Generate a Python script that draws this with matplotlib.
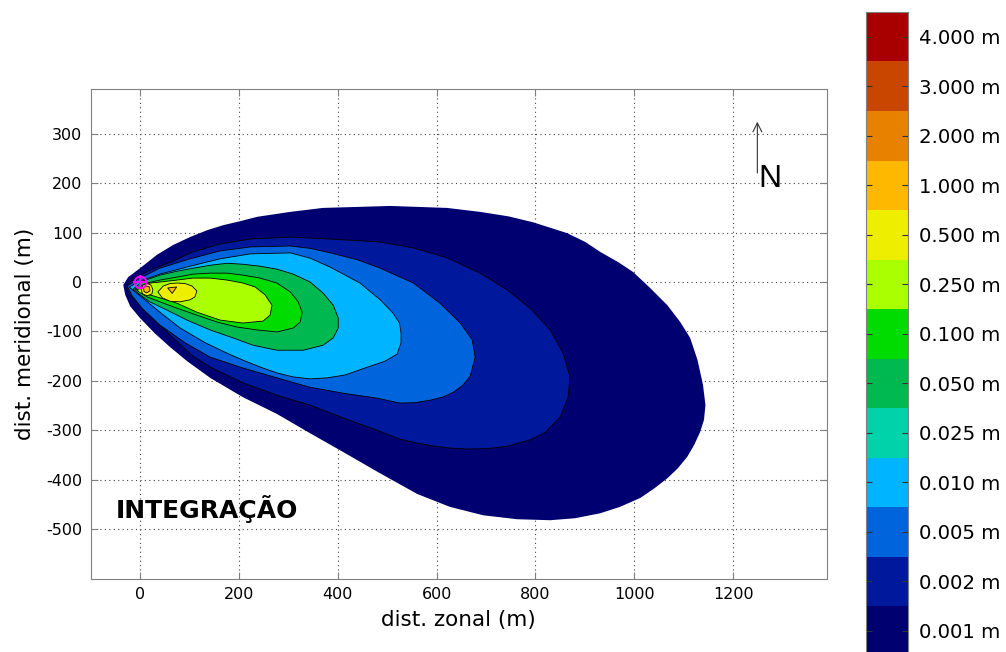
import matplotlib
matplotlib.use('Agg')
import matplotlib.pyplot as plt
from matplotlib.colors import ListedColormap
import numpy as np

plt.rcParams['axes.unicode_minus'] = False
plt.rcParams['font.family'] = ['DejaVu Sans']

# ---------------- data (metres) ----------------
level_labels = ['0.001 m', '0.002 m', '0.005 m', '0.010 m', '0.025 m', '0.050 m', '0.100 m',
                '0.250 m', '0.500 m', '1.000 m', '2.000 m', '3.000 m', '4.000 m']
level_colors = ['#000070', '#00189C', '#0064DC', '#00B4FF', '#00D2AA', '#00B850', '#00DC00',
                '#AAFF00', '#EEEE00', '#FFB800', '#E88000', '#C84600', '#A80000']

# outline of each contour region (x: zonal, y: meridional)
x_001 = [-34, -24, 0, 34, 67, 101, 136, 168, 202, 237, 304, 370, 439, 506, 621, 688, 745, 795, 864,
         901, 931, 968, 998, 1032, 1067, 1093, 1113, 1128, 1139, 1144, 1141, 1133, 1121, 1107, 1088,
         1067, 1040, 1012, 971, 931, 880, 830, 763, 694, 627, 561, 482, 411, 344,
         277, 208, 142, 95, 60, 30, 0, -20, -30]
y_001 = [-6, 10, 28, 55, 75, 91, 105, 115, 123, 132, 142, 150, 152, 154, 150, 142, 133, 121, 99,
         81, 61, 40, 20, -12, -47, -81, -113, -158, -208, -249, -279, -304, -330, -354, -377,
         -397, -418, -437, -455, -468, -478, -482, -480, -472, -455, -429, -385, -344,
         -306, -267, -233, -194, -160, -131, -104, -73, -49, -26]

x_002 = [-30, -10, 20, 61, 107, 162, 223, 304, 385, 486, 553, 621, 688, 743, 789, 830, 856, 870, 866,
         850, 820, 790, 740, 702, 664, 627, 594, 561, 526, 480, 411, 344, 277, 208, 142, 107, 71, 30, 0, -20]
y_002 = [-8, 8, 24, 40, 61, 77, 87, 91, 87, 81, 69, 49, 18, -16, -53, -97, -144, -192, -233,
         -273, -304, -319, -333, -337, -338, -336, -332, -326, -318, -300, -275, -249, -229, -204,
         -172, -150, -117, -77, -47, -26]

x_005 = [-26, 0, 40, 101, 162, 223, 304, 345, 385, 440, 486, 553, 607, 648, 672, 678, 668, 654, 634,
         612, 587, 557, 526, 480, 411, 344, 277, 208, 142, 91, 40, 4, -16]
y_005 = [-8, 8, 28, 47, 63, 71, 73, 68, 59, 45, 28, -2, -43, -83, -117, -152, -190, -208, -223,
         -233, -239, -244, -245, -235, -225, -213, -194, -174, -152, -123, -87, -53, -28]

x_010 = [-22, 0, 40, 101, 162, 223, 304, 345, 385, 445, 486, 512, 525, 528, 528, 520, 496, 455, 415,
         378, 344, 310, 277, 243, 208, 176, 132, 81, 40, 10, -10]
y_010 = [-10, 2, 16, 32, 47, 57, 59, 48, 30, -2, -36, -63, -83, -103, -123, -146, -160, -174, -188,
         -194, -196, -192, -184, -172, -158, -144, -123, -93, -61, -36, -20]

x_050 = [-14, 6, 40, 75, 107, 142, 176, 208, 243, 277, 310, 344, 370, 391, 401, 401, 391, 370, 330,
         277, 229, 188, 142, 95, 55, 20, 0]
y_050 = [-14, 2, 14, 22, 28, 34, 38, 36, 32, 26, 16, 0, -22, -47, -73, -93, -113, -128, -138,
         -138, -128, -113, -97, -77, -57, -40, -26]

x_100 = [-10, 14, 40, 75, 107, 142, 176, 208, 243, 277, 304, 320, 328, 324, 310, 277, 237, 196, 156,
         115, 75, 40, 14]
y_100 = [-14, -2, 4, 10, 16, 18, 18, 14, 8, -2, -20, -40, -61, -81, -93, -101, -97, -91, -81,
         -67, -53, -40, -30]

x_250 = [-6, 20, 40, 75, 107, 142, 176, 208, 233, 253, 267, 263, 249, 208, 162, 115, 75, 40, 20, 0]
y_250 = [-16, -2, 0, 4, 8, 8, 4, -2, -10, -26, -47, -67, -79, -83, -77, -61, -43, -32, -26, -22]

x_500 = [36, 47, 61, 75, 91, 105, 115, 111, 101, 81, 61, 45]
y_500 = [-20, -8, -3, -2, -3, -8, -18, -30, -36, -40, -39, -32]

x_1000 = [56, 74, 65]
y_1000 = [-12, -10, -23]

x_src_500 = [2, 6, 14, 22, 26, 24, 14, 5]
y_src_500 = [-14, -6, -3, -6, -15, -24, -28, -24]
x_src_1000 = [7, 12, 19, 20, 13, 8]
y_src_1000 = [-12, -8, -10, -18, -22, -19]

source_x = [0]
source_y = [0]

x_ticks = [0, 200, 400, 600, 800, 1000, 1200]
y_ticks = [-500, -400, -300, -200, -100, 0, 100, 200, 300]

# ---------------- figure ----------------
fig = plt.figure(figsize=(10.06, 6.52), dpi=100)
ax = fig.add_axes([0.0901, 0.1127, 0.7320, 0.7503])
ax.set_xlim(-100, 1390)
ax.set_ylim(-600, 390)
ax.set_axisbelow(True)

regions = [
    (x_001, y_001, level_colors[0], 'none'),
    (x_002, y_002, level_colors[1], 'black'),
    (x_005, y_005, level_colors[2], 'black'),
    (x_010, y_010, level_colors[3], 'black'),
    (x_050, y_050, level_colors[5], 'black'),
    (x_100, y_100, level_colors[6], 'black'),
    (x_250, y_250, level_colors[7], 'black'),
    (x_500, y_500, level_colors[8], 'black'),
    (x_1000, y_1000, level_colors[9], 'black'),
    (x_src_500, y_src_500, level_colors[8], 'black'),
    (x_src_1000, y_src_1000, level_colors[9], 'black'),
]
for i, (xs, ys, col, ec) in enumerate(regions):
    ax.fill(xs, ys, facecolor=col, edgecolor=ec, linewidth=0.6, joinstyle='round',
            zorder=2 + i * 0.01)

ax.plot(source_x, source_y, 'o', ms=8.5, mfc='none', mec='#FF00FF', mew=1.4, zorder=5)
ax.plot(source_x, source_y, '+', ms=10, mec='#FF00FF', mew=1.4, zorder=5)

ax.set_xticks(x_ticks)
ax.set_yticks(y_ticks)
ax.grid(True, color='#444444', linestyle=(0, (1, 3)), linewidth=0.8)
ax.tick_params(direction='in', top=True, right=True, length=5, color='#808080',
               labelsize=11.5, pad=6)
for sp in ax.spines.values():
    sp.set_color('#808080')
ax.set_xlabel('dist. zonal (m)', fontsize=15.5, labelpad=6)
ax.set_ylabel('dist. meridional (m)', fontsize=15.5, labelpad=8)

ax.text(-50, -460, 'INTEGRAÇÃO', fontsize=18, fontweight='bold', va='center', ha='left', zorder=6)

ax.annotate('', xy=(1249, 330), xytext=(1249, 215),
            arrowprops=dict(arrowstyle='->', color='#333333', lw=0.8, mutation_scale=16), zorder=6)
ax.text(1252, 193, 'N', fontsize=23, family='Liberation Sans', va='baseline', ha='left', zorder=6)

# ---------------- colour bar ----------------
cax = fig.add_axes([0.8608, -0.0054, 0.0417, 0.987])
cmap = ListedColormap(level_colors)
vals = np.arange(len(level_colors)).reshape(-1, 1)
cax.pcolormesh([0, 1], np.arange(len(level_colors) + 1), vals, cmap=cmap,
               vmin=-0.5, vmax=len(level_colors) - 0.5)
cax.set_xlim(0, 1)
cax.set_ylim(0, len(level_colors))
cax.set_xticks([])
cax.set_yticks(np.arange(len(level_colors)) + 0.5)
cax.set_yticklabels(level_labels)
cax.tick_params(axis='y', direction='in', left=True, right=True, labelleft=False, labelright=True,
                length=4, color='#333333', labelsize=14.2, pad=8)
for sp in cax.spines.values():
    sp.set_color('#808080')

fig.savefig('out.png', dpi=100)
